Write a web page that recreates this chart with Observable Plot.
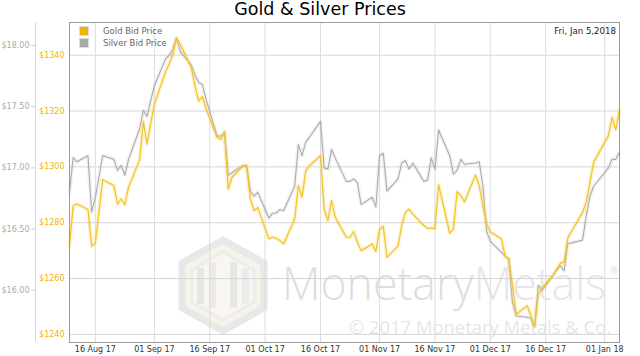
<!DOCTYPE html>
<html>
<head>
<meta charset="utf-8">
<script src="https://cdn.jsdelivr.net/npm/d3@7"></script>
<script src="https://cdn.jsdelivr.net/npm/@observablehq/plot@0.6"></script>
<style>
  html, body { margin: 0; padding: 0; background: #fff; }
  body { font-family: "DejaVu Sans", sans-serif; }
  #wrap { position: relative; width: 640px; height: 356px; overflow: hidden; }
  #wm, #chart { position: absolute; left: 0; top: 0; }
  #title { position: absolute; left: 0; top: -1px; width: 640px; text-align: center; font-size: 17.5px; color: #000; }
  .leg { position: absolute; font-size: 8.5px; color: #666; line-height: 10px; white-space: nowrap; }
  .sw { position: absolute; width: 8px; height: 8px; border: 1px solid #ddd; }
  #stamp { position: absolute; right: 24px; top: 26px; font-size: 8.6px; color: #222; white-space: nowrap; }
</style>
</head>
<body>
<div id="wrap">
  <svg id="wm" width="640" height="356" xmlns="http://www.w3.org/2000/svg">
    <g opacity="0.9">
      <polygon points="223,240 264,263 264,308 223,331 182,308 182,263" fill="#f6f2e6" stroke="#e6e6e6" stroke-width="7"/>
      <polygon points="223,252 254,270 254,302 223,320 192,302 192,270" fill="#f9f6ee" stroke="#ebebeb" stroke-width="3"/>
      <rect x="197" y="268" width="7" height="36" fill="#e4e4e4"/>
      <rect x="209" y="262" width="7" height="46" fill="#e9e9e9"/>
      <rect x="230" y="262" width="7" height="46" fill="#e4e4e4"/>
      <rect x="242" y="268" width="7" height="36" fill="#e9e9e9"/>
    </g>
    <text x="282" y="300" font-family="Open Sans, DejaVu Sans, sans-serif" font-weight="300" font-size="46" textLength="324" lengthAdjust="spacingAndGlyphs"><tspan fill="#dedede">Monetary</tspan><tspan fill="#e6e6e6">Metals</tspan></text>
    <text x="609" y="274" font-family="DejaVu Sans, sans-serif" font-size="10" fill="#e2e2e2">®</text>
    <text x="349" y="334" font-family="Open Sans, DejaVu Sans, sans-serif" font-size="18" fill="#e6e6e6" textLength="262" lengthAdjust="spacingAndGlyphs">© 2017 Monetary Metals &amp; Co.</text>
  </svg>
  <div id="chart"></div>
  <div id="title">Gold &amp; Silver Prices</div>
  <div class="sw" style="left:79px;top:26px;background:#f2b200"></div>
  <div class="sw" style="left:79px;top:38px;background:#a9a9a9"></div>
  <div class="leg" style="left:103px;top:26px">Gold Bid Price</div>
  <div class="leg" style="left:103px;top:38px">Silver Bid Price</div>
  <div id="stamp">Fri, Jan 5,2018</div>
</div>
<script>
// ---- data (business days) ----
const dates = [
  "2017-08-09","2017-08-10","2017-08-11","2017-08-14","2017-08-15","2017-08-16","2017-08-17","2017-08-18",
  "2017-08-21","2017-08-22","2017-08-23","2017-08-24","2017-08-25","2017-08-28","2017-08-29","2017-08-30",
  "2017-08-31","2017-09-01","2017-09-04","2017-09-05","2017-09-06","2017-09-07","2017-09-08","2017-09-11",
  "2017-09-12","2017-09-13","2017-09-14","2017-09-15","2017-09-18","2017-09-19","2017-09-20","2017-09-21",
  "2017-09-22","2017-09-25","2017-09-26","2017-09-27","2017-09-28","2017-09-29","2017-10-02","2017-10-03",
  "2017-10-04","2017-10-05","2017-10-06","2017-10-09","2017-10-10","2017-10-11","2017-10-12","2017-10-13",
  "2017-10-16","2017-10-17","2017-10-18","2017-10-19","2017-10-20","2017-10-23","2017-10-24","2017-10-25",
  "2017-10-26","2017-10-27","2017-10-30","2017-10-31","2017-11-01","2017-11-02","2017-11-03","2017-11-06",
  "2017-11-07","2017-11-08","2017-11-09","2017-11-10","2017-11-13","2017-11-14","2017-11-15","2017-11-16",
  "2017-11-17","2017-11-20","2017-11-21","2017-11-22","2017-11-23","2017-11-24","2017-11-27","2017-11-28",
  "2017-11-29","2017-11-30","2017-12-01","2017-12-04","2017-12-05","2017-12-06","2017-12-07","2017-12-08",
  "2017-12-11","2017-12-12","2017-12-13","2017-12-14","2017-12-15","2017-12-18","2017-12-19","2017-12-20",
  "2017-12-21","2017-12-22","2017-12-26","2017-12-27","2017-12-28","2017-12-29","2018-01-02","2018-01-03",
  "2018-01-04","2018-01-05"
];
const goldBid = [
  1271.8,1286.1,1286.7,1284.7,1271.6,1272.7,1284.3,1295.4,
  1293.3,1286.7,1288.5,1286.5,1292.7,1302.5,1316.2,1308.2,
  1315.5,1322.5,1334.0,1336.8,1340.4,1346.0,1343.9,1335.5,
  1329.0,1323.5,1325.2,1320.8,1310.5,1309.8,1312.5,1292.0,
  1296.2,1300.4,1300.6,1288.5,1284.3,1285.5,1274.2,1274.8,
  1274.4,1273.6,1272.4,1281.3,1293.3,1289.1,1298.6,1300.4,
  1304.0,1284.9,1280.8,1287.9,1281.9,1274.8,1274.8,1276.8,
  1273.0,1270.0,1272.4,1269.7,1277.5,1278.7,1267.6,1271.6,
  1279.0,1283.7,1284.9,1283.1,1279.0,1278.0,1278.0,1278.0,
  1293.6,1276.3,1277.7,1291.1,1289.7,1287.5,1297.1,1293.3,
  1286.0,1279.7,1276.7,1274.2,1268.0,1267.1,1257.5,1247.1,
  1250.3,1246.5,1242.9,1254.2,1256.6,1261.1,1263.2,1265.6,
  1265.8,1274.6,1283.7,1287.3,1294.5,1301.6,1311.2,1317.7,
  1313.3,1320.5
];
const silverBid = [
  16.80,17.085,17.05,17.10,16.64,16.76,16.93,17.10,
  17.07,16.98,17.02,16.94,17.07,17.32,17.47,17.42,
  17.55,17.67,17.89,17.92,17.97,18.065,17.95,17.84,
  17.76,17.70,17.68,17.56,17.26,17.26,17.29,16.94,
  16.96,17.02,17.00,16.81,16.77,16.80,16.59,16.63,
  16.63,16.66,16.65,16.85,17.19,17.10,17.21,17.25,
  17.38,17.00,16.99,17.15,17.08,16.89,16.89,16.91,
  16.88,16.70,16.76,16.68,17.10,17.12,16.81,16.91,
  17.04,17.06,16.99,17.04,16.89,16.90,17.08,16.99,
  17.31,17.10,16.95,16.98,17.07,17.03,17.04,17.05,
  16.85,16.48,16.40,16.31,16.28,16.25,15.90,15.79,
  15.78,15.77,15.70,16.04,16.00,16.12,16.17,16.20,
  16.16,16.38,16.41,16.61,16.77,16.85,17.00,17.07,
  17.07,17.13
];
const goldTicks = [1240, 1260, 1280, 1300, 1320, 1340];
const silverTicks = [16.00, 16.50, 17.00, 17.50, 18.00];
const dateTicks = ["2017-08-16","2017-09-01","2017-09-16","2017-10-01","2017-10-16",
                   "2017-11-01","2017-11-16","2017-12-01","2017-12-16","2018-01-01"];

// ---- scales ----
const goldDomain = [1237.1, 1351.7];
const silverDomain = [15.5735, 18.188];
const k = (goldDomain[1] - goldDomain[0]) / (silverDomain[1] - silverDomain[0]);
const s2g = s => goldDomain[0] + (s - silverDomain[0]) * k;
const g2s = g => silverDomain[0] + (g - goldDomain[0]) / k;

const rows = dates.map((d, i) => ({date: new Date(d), gold: goldBid[i], silver: silverBid[i]}));
const xDomain = [new Date(dates[0]), new Date(dates[dates.length - 1])];
const fmt = d3.utcFormat("%d %b %y");

const chart = Plot.plot({
  width: 640,
  height: 356,
  marginTop: 22,
  marginBottom: 14,
  marginLeft: 69,
  marginRight: 21,
  x: {type: "utc", domain: xDomain, label: null},
  y: {domain: goldDomain, label: null},
  style: {fontFamily: "DejaVu Sans, sans-serif", fontSize: "8px", background: "transparent", overflow: "visible"},
  marks: [
    Plot.gridY(goldTicks, {stroke: "#d6d6d6", strokeOpacity: 1}),
    Plot.gridX(dateTicks.map(d => new Date(d)), {stroke: "#dcdcdc", strokeOpacity: 1}),
    Plot.ruleX([xDomain[0]], {dx: -34, stroke: "#dadada"}),
    Plot.line(rows, {x: "date", y: d => s2g(d.silver), stroke: "#9a9a9a", strokeWidth: 4, strokeOpacity: 0.12}),
    Plot.line(rows, {x: "date", y: d => s2g(d.silver), stroke: "#ababab", strokeWidth: 1.1}),
    Plot.line(rows, {x: "date", y: "gold", stroke: "#f7d85a", strokeWidth: 4, strokeOpacity: 0.3}),
    Plot.line(rows, {x: "date", y: "gold", stroke: "#f3c22c", strokeWidth: 1.2}),
    Plot.frame({stroke: "#9a9a9a"}),
    Plot.axisY(goldTicks, {anchor: "left", label: null, tickSize: 0, tickPadding: 5, tickFormat: d => "$" + d, fill: "#f0b400"}),
    Plot.axisY(silverTicks.map(s2g), {anchor: "left", label: null, dx: -34, tickSize: 4, tickPadding: 2,
      tickFormat: v => "$" + g2s(v).toFixed(2), fill: "#ababab", stroke: "#cfcfcf"}),
    Plot.axisX(dateTicks.map(d => new Date(d)), {anchor: "bottom", label: null, tickSize: 0, tickPadding: 4, tickFormat: fmt, fill: "#333"})
  ]
});
document.getElementById("chart").appendChild(chart);
</script>
</body>
</html>
